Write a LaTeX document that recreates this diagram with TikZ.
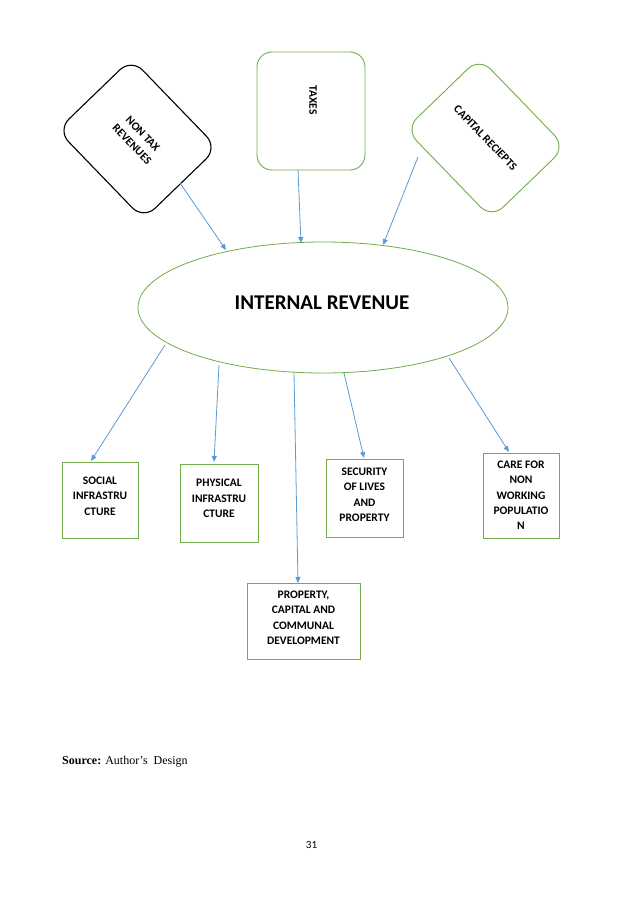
\documentclass[tikz,border=0pt]{standalone}
\usepackage{fontspec}
\setmainfont{Carlito}
\newfontfamily\timesf{Liberation Serif}
\usetikzlibrary{arrows.meta,shapes.geometric,calc}
\definecolor{offgreen}{HTML}{70AD47}
\definecolor{offblue}{HTML}{5B9BD5}
\begin{document}
\begin{tikzpicture}[x=1pt,y=-1pt,
 conn/.style={draw=offblue, line width=0.8pt, -{Triangle[length=6pt,width=5pt]}},
 gbox/.style={draw=offgreen, line width=0.9pt, inner sep=0pt},
 rbox/.style={rounded corners=16pt, inner sep=0pt, minimum width=124pt, minimum height=103pt, align=center, font=\bfseries\fontsize{11.5}{15}\selectfont},
 btxt/.style={align=center, inner sep=0pt, anchor=north, font=\bfseries\fontsize{11.5}{15.4}\selectfont}
]
\useasboundingbox[fill=white] (0,0) rectangle (638,903);

% top sources
\node[rbox, draw=black, line width=1.1pt, rotate=-46] (ntr) at (137.5,139) {NON TAX\\REVENUES};
\node[rbox, draw=offgreen, line width=0.9pt, rotate=-46] (cap) at (485.5,138) {CAPITAL RECIEPTS};
\node[gbox, rounded corners=15pt, minimum width=108pt, minimum height=118pt] (tax) at (311,111) {};
\node[inner sep=0pt, rotate=-90, font=\bfseries\fontsize{11.5}{15}\selectfont] (taxt) at (313,100) {TAXES};

% central ellipse
\node[ellipse, draw=offgreen, line width=0.8pt, minimum width=370pt, minimum height=131pt, inner sep=0pt] (ir) at (323,307.5) {};
\node[inner sep=0pt, font=\bfseries\fontsize{21}{25}\selectfont] (irt) at (322,303) {INTERNAL REVENUE};

% bottom boxes
\node[gbox, minimum width=76pt, minimum height=76pt] (social) at (100,500) {};
\node[gbox, minimum width=78pt, minimum height=78pt] (phys) at (219,503) {};
\node[gbox, minimum width=77pt, minimum height=78pt] (sec) at (364.5,498) {};
\node[gbox, minimum width=76pt, minimum height=85pt] (care) at (521,495.5) {};
\node[gbox, minimum width=113pt, minimum height=76pt] (prop) at (303.5,621) {};

\node[btxt] (socialt) at (100,476.6) {SOCIAL\\INFRASTRU\\CTURE};
\node[btxt] (physt) at (219,479) {PHYSICAL\\INFRASTRU\\CTURE};
\node[btxt] (sect) at (364.5,467.6) {SECURITY\\OF LIVES\\AND\\PROPERTY};
\node[btxt] (caret) at (521,460.6) {CARE FOR\\NON\\WORKING\\POPULATIO\\N};
\node[btxt] (propt) at (303.5,590.6) {PROPERTY,\\CAPITAL AND\\COMMUNAL\\DEVELOPMENT};

% connector end points
\coordinate (s1) at (180,183);
\coordinate (e1) at (226,250);
\coordinate (s2) at (298,170);
\coordinate (e2) at (301,243);
\coordinate (s3) at (418,157);
\coordinate (e3) at (383,245);
\coordinate (d1s) at (165,345);
\coordinate (d1e) at (91,461);
\coordinate (d2s) at (219,365);
\coordinate (d2e) at (214,462);
\coordinate (d3s) at (294,373);
\coordinate (d3e) at (298,583);
\coordinate (d4s) at (344,373);
\coordinate (d4e) at (364,458);
\coordinate (d5s) at (449,358);
\coordinate (d5e) at (509,452);

\draw[conn] (s1) -- (e1);
\draw[conn] (s2) -- (e2);
\draw[conn] (s3) -- (e3);
\draw[conn] (d1s) -- (d1e);
\draw[conn] (d2s) -- (d2e);
\draw[conn] (d3s) -- (d3e);
\draw[conn] (d4s) -- (d4e);
\draw[conn] (d5s) -- (d5e);

% captions
\node[anchor=base west, inner sep=0pt, font=\timesf\fontsize{12}{14}\selectfont] (src) at (62,764) {\textbf{Source:} Author’s\ \ Design};
\node[anchor=base, inner sep=0pt, font=\fontsize{11}{13}\selectfont] (pg) at (311.5,848) {31};
\end{tikzpicture}
\end{document}
